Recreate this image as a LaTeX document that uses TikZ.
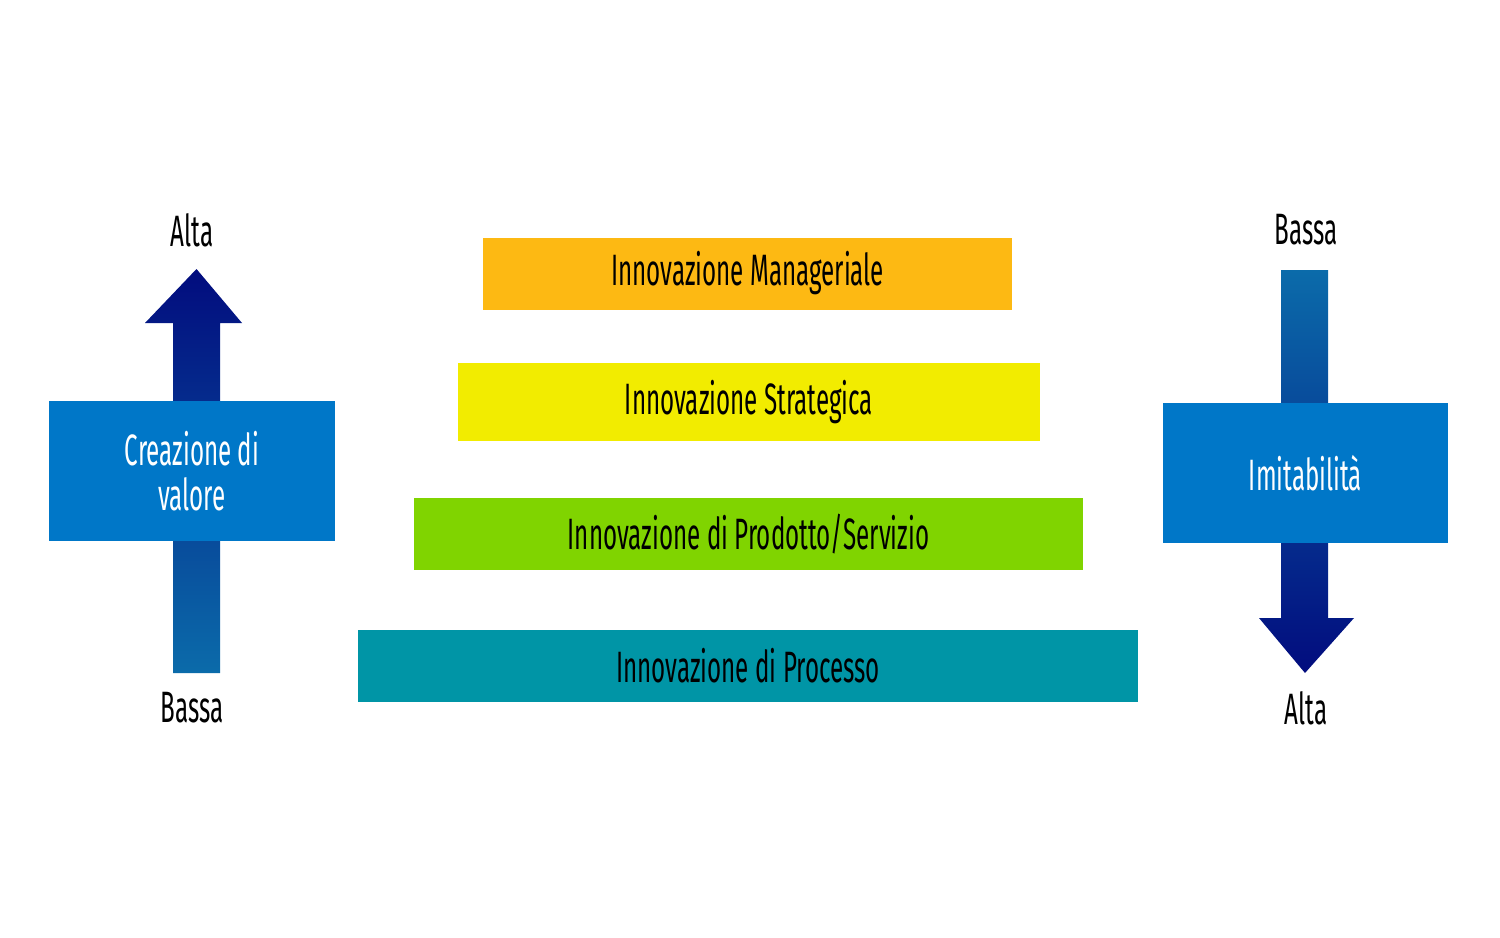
\documentclass[tikz,border=0pt]{standalone}
\usepackage{fontspec}
\newfontfamily\handfont[FakeStretch=0.55]{Fira Sans}
\definecolor{manorange}{HTML}{FDB913}
\definecolor{strayellow}{HTML}{F2EC00}
\definecolor{prodgreen}{HTML}{80D400}
\definecolor{procteal}{HTML}{0095A6}
\definecolor{boxblue}{HTML}{0077C8}
\definecolor{arrnavy}{HTML}{020C7E}
\definecolor{arrblue}{HTML}{0B6BAA}

\begin{document}
\begin{tikzpicture}
	 [x=0.2mm,y=-0.2mm,
	  every node/.style={font=\handfont\fontsize{25}{26}\selectfont,inner sep=0pt},
	  bar/.style={rectangle,minimum height=14.4mm},
	  valbox/.style={rectangle,fill=boxblue,text=white,align=center,minimum width=57mm,minimum height=28mm}]

	\useasboundingbox (0,0) rectangle (1500,938);

	% freccia sinistra
	\shade[top color=arrnavy,bottom color=arrblue] (173,673) -- (173,323) -- (145,323) -- (196.5,269) -- (242,323) -- (220,323) -- (220,673) -- cycle;
	% freccia destra
	\shade[top color=arrblue,bottom color=arrnavy] (1281,270) -- (1281,618) -- (1259,618) -- (1305,673) -- (1354,618) -- (1328,618) -- (1328,270) -- cycle;

	  \node[valbox] (cv) at (192,471) {Creazione di\\valore};
	  \node[valbox] (im) at (1305.5,473) {Imitabilità};

	  \node (cvtop) at (192,230) {Alta};
	  \node (cvbot) at (192,708) {Bassa};
	  \node (imtop) at (1306,230) {Bassa};
	  \node (imbot) at (1306,708) {Alta};

	  \node[bar,fill=manorange,minimum width=105.8mm] (man) at (747.5,273.5) {Innovazione Manageriale};
	  \node[bar,fill=strayellow,minimum width=116.4mm,minimum height=15.6mm] (str) at (749,402) {Innovazione Strategica};
	  \node[bar,fill=prodgreen,minimum width=133.8mm] (prod) at (748.5,534) {Innovazione di Prodotto/Servizio};
	  \node[bar,fill=procteal,minimum width=156mm] (proc) at (748,666) {Innovazione di Processo};

\end{tikzpicture}
\end{document}
